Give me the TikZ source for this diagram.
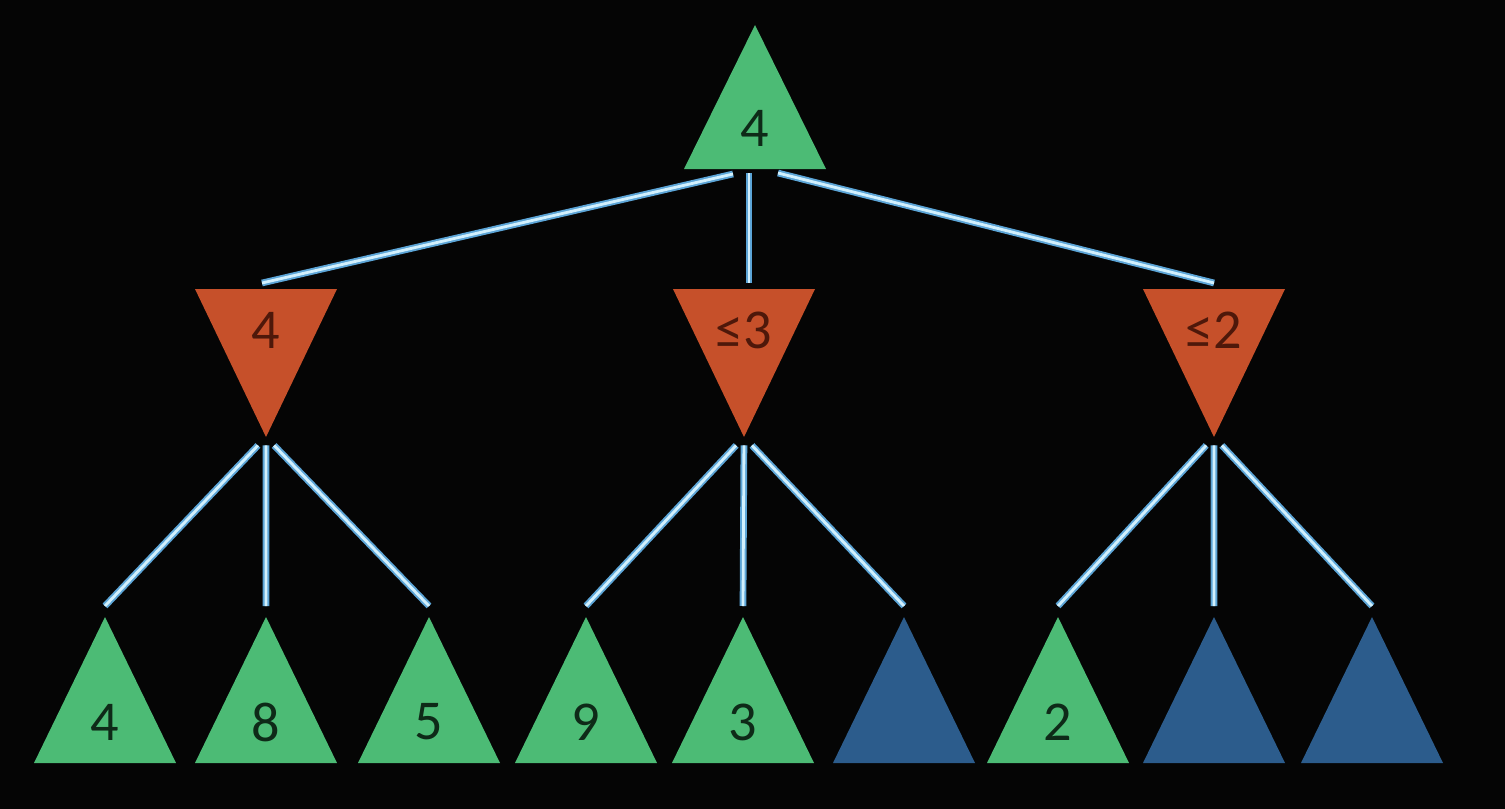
\documentclass[tikz,border=0pt]{standalone}
\usepackage{fontspec}
\setmainfont{Carlito}
\usetikzlibrary{calc}
\definecolor{maxgreen}{RGB}{76,187,117}
\definecolor{minred}{RGB}{198,80,42}
\definecolor{prunedblue}{RGB}{44,92,140}
\definecolor{edgeblue}{RGB}{92,165,215}
\definecolor{edgecore}{RGB}{210,240,253}
\definecolor{maxtext}{RGB}{14,42,24}
\definecolor{mintext}{RGB}{78,24,10}
\tikzset{
  lbl/.style={inner sep=0pt, font=\fontsize{16}{19}\selectfont},
  edge/.style={draw=edgeblue, line width=0.55pt, double=edgecore, double distance=0.8pt}
}
\begin{document}
\begin{tikzpicture}[x=0.01cm, y=-0.01cm]
    % Background
    \fill[black!98] (0,0) rectangle (1505,809);
    \useasboundingbox (0,0) rectangle (1505,809);

    % MAX root
    \fill[maxgreen] (684,169) -- (755,25) -- (826,169) -- cycle;
    \node[lbl, text=maxtext] (root) at (755,128) {4};
    \coordinate (root-l) at (733,174);
    \coordinate (root-c) at (749,173);
    \coordinate (root-r) at (778,173);

    % MIN level
    \foreach \name/\cx/\ex/\val in {m1/266/262/4, m2/744/749/{≤3}, m3/1214/1214/{≤2}} {
        \fill[minred] (\cx-71,289) -- (\cx+71,289) -- (\cx,437) -- cycle;
        \node[lbl, text=mintext] (\name) at (\cx,330) {\val};
        \coordinate (\name-t) at (\ex,283);
        \coordinate (\name-b) at (\cx,437);
    }

    % Leaves
    \foreach \name/\cx/\col/\val in {l1/105/maxgreen/4, l2/266/maxgreen/8, l3/429/maxgreen/5,
            l4/586/maxgreen/9, l5/743/maxgreen/3, l6/904/prunedblue/{},
            l7/1058/maxgreen/2, l8/1214/prunedblue/{}, l9/1372/prunedblue/{}} {
        \fill[\col] (\cx-71,763) -- (\cx,617) -- (\cx+71,763) -- cycle;
        \node[lbl, text=maxtext] (\name) at (\cx,722) {\val};
        \coordinate (\name-t) at (\cx,606);
    }

    % Edges root -> MIN
    \draw[edge] (root-l) -- (m1-t);
    \draw[edge] (root-c) -- (m2-t);
    \draw[edge] (root-r) -- (m3-t);

    % Edges MIN -> leaves
    \foreach \m/\l in {m1/l1, m1/l2, m1/l3, m2/l4, m2/l5, m2/l6, m3/l7, m3/l8, m3/l9}
        \draw[edge] ($(\m-b)!0.05!(\l-t)$) -- (\l-t);
\end{tikzpicture}
\end{document}
